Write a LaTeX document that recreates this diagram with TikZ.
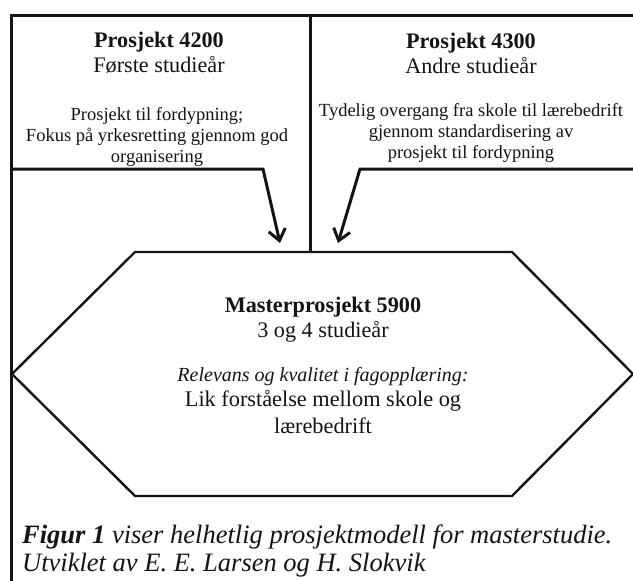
\documentclass[tikz,border=0pt]{standalone}
\usepackage{fontspec}
\setmainfont{Liberation Serif}
\usetikzlibrary{arrows.meta}
\definecolor{ink}{HTML}{141414}
\begin{document}
\begin{tikzpicture}[x=1pt,y=-1pt,
  frame/.style={draw=ink,line width=3pt},
  feed/.style={draw=ink,line width=3pt,line join=miter,
    -{Straight Barb[length=11pt,width=17pt]}},
  hexline/.style={draw=ink,line width=2.4pt,line join=miter},
  % multi-line nodes: the base anchor sits on the last line
  txt/.style={inner sep=0pt,anchor=base,align=center,text=ink},
  head/.style={txt,font=\fontsize{22.2}{25}\selectfont},
  body/.style={txt,font=\fontsize{18.5}{21}\selectfont},
  caption/.style={inner sep=0pt,anchor=base west,align=left,text=ink,
    font=\itshape\fontsize{26.5}{28}\selectfont}]
\useasboundingbox (0,0) rectangle (633,581);
\fill[white] (0,0) rectangle (633,581);

% frame corners and partition points
\coordinate (topL) at (11,15);
\coordinate (topR) at (640,15);
\coordinate (botL) at (11,590);
\coordinate (midT) at (310,15);
\coordinate (midB) at (310,252);

% hexagon vertices
\coordinate (h1) at (135,252);
\coordinate (h2) at (512,252);
\coordinate (h3) at (633,374);
\coordinate (h4) at (512,496);
\coordinate (h5) at (135,496);
\coordinate (h6) at (12,374);

% feeder lines with arrows
\coordinate (lin) at (11,169);
\coordinate (lbend) at (263,169);
\coordinate (ltip) at (280,243);
\coordinate (rin) at (640,169);
\coordinate (rbend) at (360,169);
\coordinate (rtip) at (338,243);

\draw[frame] (botL) -- (topL) -- (topR);
\draw[frame] (midT) -- (midB);
\draw[hexline] (h1) -- (h2) -- (h3) -- (h4) -- (h5) -- (h6) -- cycle;
\draw[feed] (lin) -- (lbend) -- (ltip);
\draw[feed] (rin) -- (rbend) -- (rtip);

% first-year project
\node[head] (p4200) at (159,72) {\textbf{Prosjekt 4200}\\Første studieår};
\node[body] (p4200b) at (157,162) {Prosjekt til fordypning;\\Fokus på yrkesretting gjennom god\\organisering};

% second-year project
\node[head] (p4300) at (471,73) {\textbf{Prosjekt 4300}\\Andre studieår};
\node[body] (p4300b) at (471,158) {Tydelig overgang fra skole til lærebedrift\\gjennom standardisering av\\prosjekt til fordypning};

% master project
\node[head] (p5900) at (323,337) {\textbf{Masterprosjekt 5900}\\3 og 4 studieår};
\node[txt,font=\itshape\fontsize{20}{22}\selectfont] (p5900i) at (323,381) {Relevans og kvalitet i fagopplæring:};
\node[txt,font=\fontsize{22.3}{27}\selectfont] (p5900b) at (323,433) {Lik forståelse mellom skole og\\lærebedrift};

% caption
\node[caption] (cap) at (22,571) {\textbf{Figur 1} viser helhetlig prosjektmodell for masterstudie.\\Utviklet av E. E. Larsen og H. Slokvik};
\end{tikzpicture}
\end{document}
